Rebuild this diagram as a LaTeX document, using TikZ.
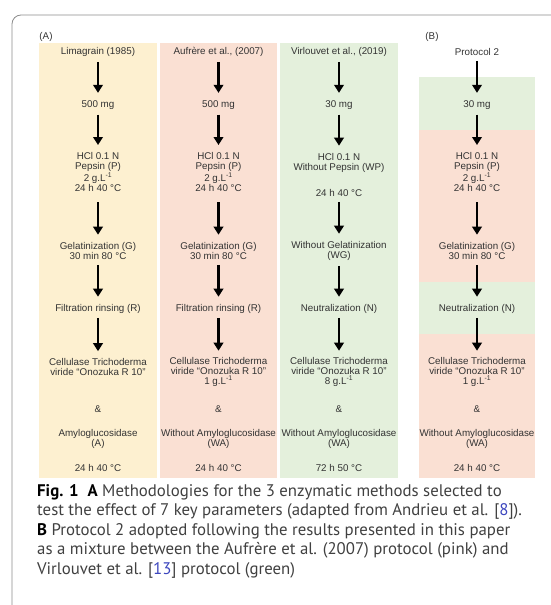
\documentclass[tikz,border=0pt]{standalone}
\usepackage{fontspec}
\setmainfont{Liberation Sans}
\newfontfamily\capfont{PT Sans}
\usetikzlibrary{arrows.meta}
\definecolor{limbg}{RGB}{253,240,208}
\definecolor{aufbg}{RGB}{250,224,211}
\definecolor{virbg}{RGB}{228,240,220}
\definecolor{citeblue}{RGB}{60,70,190}
\definecolor{capgray}{RGB}{64,64,64}
\begin{document}
\begin{tikzpicture}[%
    x=1pt,y=-1pt,%
    steptext/.style={font=\fontsize{9.8}{10}\selectfont,text=black!80,align=center,inner sep=0pt},%
    panel/.style={font=\fontsize{9.8}{10}\selectfont,text=black!80,inner sep=0pt},%
    flow/.style={line width=2.6pt,-{Triangle[width=9.5pt,length=8pt]},shorten <=5pt,shorten >=7.5pt},%
    frame/.style={draw=black!45,line width=0.8pt,rounded corners=9pt},%
]%
    \useasboundingbox (0,0) rectangle (551,605);

    % outer frame, cut off at the right and bottom
    \draw[frame] (551,15) -- (12,15) -- (12,605);

    % coloured columns
    \fill[limbg] (39,43) rectangle (157,478);
    \fill[aufbg] (160,43) rectangle (277,478);
    \fill[virbg] (280,43) rectangle (398,478);
    \fill[virbg] (419,77) rectangle (535,130);
    \fill[aufbg] (419,130) rectangle (535,282);
    \fill[virbg] (419,282) rectangle (535,334);
    \fill[aufbg] (419,334) rectangle (535,478);

    \node[panel] (labA) at (46,37) {(A)};
    \node[panel] (labB) at (432,37) {(B)};

    % (A) Limagrain
    \node[steptext] (lim-title) at (98,52) {Limagrain (1985)};
    \node[steptext] (lim-mass) at (98,105) {500 mg};
    \node[steptext] (lim-hcl) at (98,172) {HCl 0.1 N\\Pepsin (P)\\2 g.L\textsuperscript{-1}\\24 h 40 °C};
    \node[steptext] (lim-gel) at (98,251) {Gelatinization (G)\\30 min 80 °C};
    \node[steptext] (lim-rinse) at (98,309) {Filtration rinsing (R)};
    \node[steptext] (lim-cell) at (98,366.5) {Cellulase Trichoderma\\viride “Onozuka R 10”};
    \node[steptext] (lim-and) at (98,409) {\&};
    \node[steptext] (lim-amy) at (98,438.5) {Amyloglucosidase\\(A)};
    \node[steptext] (lim-time) at (98,468) {24 h 40 °C};

    % (A) Aufrere
    \node[steptext] (auf-title) at (218.5,52) {Aufrère et al., (2007)};
    \node[steptext] (auf-mass) at (218.5,105) {500 mg};
    \node[steptext] (auf-hcl) at (218.5,172) {HCl 0.1 N\\Pepsin (P)\\2 g.L\textsuperscript{-1}\\24 h 40 °C};
    \node[steptext] (auf-gel) at (218.5,251) {Gelatinization (G)\\30 min 80 °C};
    \node[steptext] (auf-rinse) at (218.5,309) {Filtration rinsing (R)};
    \node[steptext] (auf-cell) at (218.5,372) {Cellulase Trichoderma\\viride “Onozuka R 10”\\1 g.L\textsuperscript{-1}};
    \node[steptext] (auf-and) at (218.5,409) {\&};
    \node[steptext] (auf-amy) at (218.5,438.5) {Without Amyloglucosidase\\(WA)};
    \node[steptext] (auf-time) at (218.5,468) {24 h 40 °C};

    % (A) Virlouvet
    \node[steptext] (vir-title) at (339,52) {Virlouvet et al., (2019)};
    \node[steptext] (vir-mass) at (339,105) {30 mg};
    \node[steptext] (vir-hcl) at (339,175) {HCl 0.1 N\\Without Pepsin (WP)\\[16pt]24 h 40 °C};
    \node[steptext] (vir-gel) at (339,251) {Without Gelatinization\\(WG)};
    \node[steptext] (vir-rinse) at (339,309) {Neutralization (N)};
    \node[steptext] (vir-cell) at (339,372) {Cellulase Trichoderma\\viride “Onozuka R 10”\\8 g.L\textsuperscript{-1}};
    \node[steptext] (vir-and) at (339,409) {\&};
    \node[steptext] (vir-amy) at (339,438.5) {Without Amyloglucosidase\\(WA)};
    \node[steptext] (vir-time) at (339,468) {72 h 50 °C};

    % (B) Protocol 2
    \node[steptext] (pro-title) at (477,52) {Protocol 2};
    \node[steptext] (pro-mass) at (477,105) {30 mg};
    \node[steptext] (pro-hcl) at (477,172) {HCl 0.1 N\\Pepsin (P)\\2 g.L\textsuperscript{-1}\\24 h 40 °C};
    \node[steptext] (pro-gel) at (477,251) {Gelatinization (G)\\30 min 80 °C};
    \node[steptext] (pro-rinse) at (477,309) {Neutralization (N)};
    \node[steptext] (pro-cell) at (477,372) {Cellulase Trichoderma\\viride “Onozuka R 10”\\1 g.L\textsuperscript{-1}};
    \node[steptext] (pro-and) at (477,409) {\&};
    \node[steptext] (pro-amy) at (477,438.5) {Without Amyloglucosidase\\(WA)};
    \node[steptext] (pro-time) at (477,468) {24 h 40 °C};

    % arrows down each column
    \foreach \c/\gap in {lim/11,auf/11,vir/5,pro/11}{%
        \draw[flow] (\c-title) -- (\c-mass);
        \draw[flow] (\c-mass) -- (\c-hcl);
        \draw[flow,shorten <=\gap pt] (\c-hcl) -- (\c-gel);
        \draw[flow] (\c-gel) -- (\c-rinse);
        \draw[flow,shorten <=4pt,shorten >=6.5pt] (\c-rinse) -- (\c-cell);
    }

    % caption
    \node[anchor=north west,inner sep=0pt,align=left,text=capgray,
        font=\capfont\fontsize{16.8}{19.6}\selectfont] (caption) at (37,484)
        {{\color{black}\bfseries Fig. 1}\hspace{9pt}{\color{black}\bfseries A} Methodologies for the 3 enzymatic methods selected to\\
        test the effect of 7 key parameters (adapted from Andrieu et al. [{\color{citeblue}8}]).\\
        {\color{black}\bfseries B} Protocol 2 adopted following the results presented in this paper\\
        as a mixture between the Aufrère et al. (2007) protocol (pink) and\\
        Virlouvet et al. [{\color{citeblue}13}] protocol (green)};
\end{tikzpicture}
\end{document}
